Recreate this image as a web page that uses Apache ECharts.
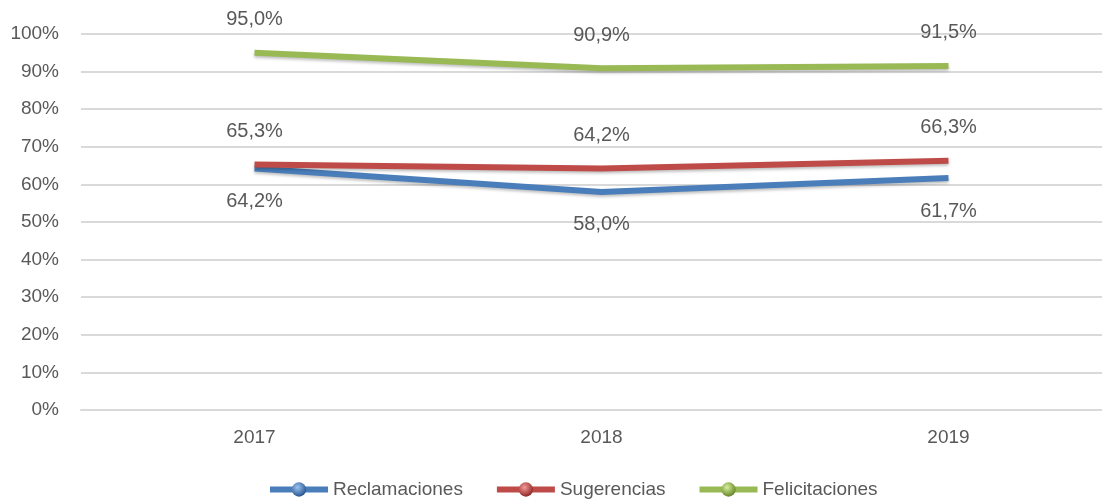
<!DOCTYPE html>
<html>
<head>
<meta charset="utf-8">
<style>
  html, body { margin: 0; padding: 0; background: #fff; overflow: hidden; }
  #chart { width: 1122px; height: 499px; }
</style>
<script src="https://cdn.jsdelivr.net/npm/echarts@6/dist/echarts.min.js"></script>
</head>
<body>
<div id="chart"></div>
<script>
const years = ['2017', '2018', '2019'];
const reclamaciones = [64.2, 58.0, 61.7];
const sugerencias = [65.3, 64.2, 66.3];
const felicitaciones = [95.0, 90.9, 91.5];
const yTicks = [0, 10, 20, 30, 40, 50, 60, 70, 80, 90, 100];

const font = '"Liberation Sans", Arial, sans-serif';

function sphere(c1, c2) {
  return new echarts.graphic.RadialGradient(0.4, 0.35, 0.7, [
    { offset: 0, color: c1 },
    { offset: 1, color: c2 }
  ]);
}

function makeSeries(name, data, color, light, dark, pos) {
  return {
    name: name,
    type: 'line',
    data: data,
    symbol: 'circle',
    symbolSize: 0,
    showSymbol: true,
    lineStyle: {
      color: color,
      width: 6,
      shadowColor: 'rgba(0,0,0,0.25)',
      shadowBlur: 3,
      shadowOffsetY: 2
    },
    itemStyle: { color: sphere(light, dark) },
    label: {
      show: true,
      position: pos,
      distance: 23,
      formatter: p => p.value.toFixed(1).replace('.', ',') + '%',
      fontFamily: font,
      fontSize: 20,
      color: '#595959'
    },
    emphasis: { disabled: true }
  };
}

const chart = echarts.init(document.getElementById('chart'));
chart.setOption({
  animation: false,
  grid: { left: 81, right: 0, top: 34, bottom: 89 },
  legend: {
    bottom: -5,
    left: 262,
    itemWidth: 58,
    itemHeight: 18,
    itemGap: 31,
    lineStyle: { width: 6 },
    textStyle: { fontFamily: font, fontSize: 19, color: '#595959' },
    data: ['Reclamaciones', 'Sugerencias', 'Felicitaciones']
  },
  xAxis: {
    type: 'category',
    data: years,
    boundaryGap: true,
    axisLine: { lineStyle: { color: '#d9d9d9', width: 2 } },
    axisTick: { show: false },
    axisLabel: { fontFamily: font, fontSize: 19, color: '#595959', margin: 18 }
  },
  yAxis: {
    type: 'value',
    min: yTicks[0],
    max: yTicks[yTicks.length - 1],
    interval: 10,
    axisLine: { show: false },
    axisTick: { show: false },
    splitLine: { lineStyle: { color: '#d9d9d9', width: 2 } },
    axisLabel: { fontFamily: font, fontSize: 19, color: '#595959', margin: 22, formatter: '{value}%' }
  },
  series: [
    makeSeries('Reclamaciones', reclamaciones, '#4a7ebb', '#9cc3f0', '#1f4e8c', 'bottom'),
    makeSeries('Sugerencias', sugerencias, '#be4b48', '#f29a98', '#8c1f1c', 'top'),
    makeSeries('Felicitaciones', felicitaciones, '#98b954', '#d6ef9c', '#5f7f1e', 'top')
  ]
});
</script>
</body>
</html>
